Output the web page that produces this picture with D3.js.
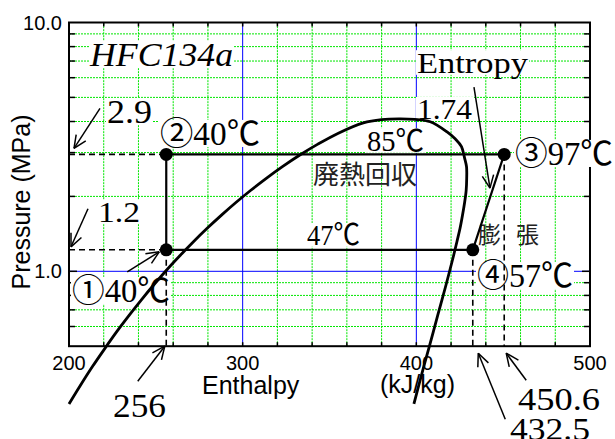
<!DOCTYPE html>
<html>
<head>
<meta charset="utf-8">
<script src="https://cdn.jsdelivr.net/npm/d3@7"></script>
<style>
    body { margin: 0; background: #fff; }
</style>
</head>
<body>
<div id="chart"></div>
<script>

// saturation dome of HFC134a, liquid side up to the top then down the vapour side
const satH = [200.0, 206.8, 213.6, 220.5, 227.5, 234.6, 241.8, 249.1, 256.5, 264.1, 271.8, 279.7, 287.8,
    296.1, 304.7, 313.6, 322.9, 332.7, 343.3, 355.1, 369.5, 380.0, 390.0, 399.0,
    408.0, 417.5, 422.5, 426.0, 427.8, 428.9, 429.0, 428.7, 427.8, 426.6, 425.2, 423.4, 421.5,
    419.4, 417.2, 414.8, 412.3, 409.8, 407.1, 404.3, 401.5, 398.6];
const satP = [0.293, 0.350, 0.415, 0.488, 0.572, 0.665, 0.770, 0.887, 1.017, 1.160, 1.318, 1.492, 1.682,
    1.890, 2.117, 2.364, 2.633, 2.926, 3.244, 3.591, 3.950, 4.070, 4.100, 4.080,
    3.990, 3.640, 3.400, 3.170, 2.850, 2.633, 2.364, 2.117, 1.890, 1.682, 1.492, 1.318, 1.160,
    1.017, 0.887, 0.770, 0.665, 0.572, 0.488, 0.415, 0.350, 0.293];

// cycle states 1 -> 4
const stateH = [256, 256, 450.6, 432.5];
const stateP = [1.22, 2.95, 2.95, 1.22];

// axis ticks
const xTickLabels = [200, 300, 400, 500];
const yTickLabels = [1, 10];

let margin = {top: 22.5, right: 25, bottom: 92.8, left: 69};
let width = 615, height = 439;

let svg = d3.select("#chart").append("svg")
    .attr("width", width)
    .attr("height", height)
    .style("display", "block");

let x = d3.scaleLinear().domain([200, 500]).range([margin.left, width - margin.right]);
let y = d3.scaleLog().domain([0.5, 10]).range([height - margin.bottom, margin.top]);

let sans = "'Liberation Sans', Arial, sans-serif";
let serif = "'Liberation Serif', 'Noto Sans CJK JP', serif";
let cjk = "'Noto Sans CJK JP', sans-serif";

// grid
let grid = svg.append("g");
let xGrid = d3.range(220, 500, 20);
grid.selectAll(".vgrid")
    .data(xGrid)
    .enter().append("line")
    .attr("x1", d => x(d)).attr("x2", d => x(d))
    .attr("y1", y(0.5)).attr("y2", y(10))
    .attr("stroke", d => (d === 300 || d === 400) ? "#0000ff" : "#00e600")
    .attr("stroke-width", 1)
    .attr("stroke-dasharray", d => (d === 300 || d === 400) ? null : "2,1");

let yGrid = y.ticks().filter(d => d > 0.5 && d < 10);
grid.selectAll(".hgrid")
    .data(yGrid)
    .enter().append("line")
    .attr("x1", x(200)).attr("x2", x(500))
    .attr("y1", d => y(d)).attr("y2", d => y(d))
    .attr("stroke", d => d === 1 ? "#0000ff" : "#00e600")
    .attr("stroke-width", 1)
    .attr("stroke-dasharray", d => d === 1 ? null : "2,1");

// frame + inward ticks
let frame = svg.append("g");
let xTicks = d3.range(220, 500, 20);
frame.selectAll(".tb")
    .data(xTicks)
    .enter().append("line")
    .attr("x1", d => x(d)).attr("x2", d => x(d))
    .attr("y1", y(0.5)).attr("y2", y(0.5) - 4)
    .attr("stroke", "#000").attr("stroke-width", 1.5);
frame.selectAll(".tt")
    .data(xTicks)
    .enter().append("line")
    .attr("x1", d => x(d)).attr("x2", d => x(d))
    .attr("y1", y(10)).attr("y2", y(10) + 4)
    .attr("stroke", "#000").attr("stroke-width", 1.5);
frame.selectAll(".tl")
    .data(yGrid)
    .enter().append("line")
    .attr("x1", x(200)).attr("x2", d => x(200) + (d === 1 ? 8 : 6))
    .attr("y1", d => y(d)).attr("y2", d => y(d))
    .attr("stroke", "#000").attr("stroke-width", 1.5);
frame.selectAll(".tr")
    .data(yGrid)
    .enter().append("line")
    .attr("x1", x(500)).attr("x2", d => x(500) - (d === 1 ? 8 : 6))
    .attr("y1", d => y(d)).attr("y2", d => y(d))
    .attr("stroke", "#000").attr("stroke-width", 1.5);
frame.append("rect")
    .attr("x", x(200)).attr("y", y(10))
    .attr("width", x(500) - x(200)).attr("height", y(0.5) - y(10))
    .attr("fill", "none").attr("stroke", "#000").attr("stroke-width", 2);

// tick labels and axis titles
svg.selectAll(".xlab")
    .data(xTickLabels)
    .enter().append("text")
    .attr("x", d => x(d)).attr("y", y(0.5) + 24)
    .attr("text-anchor", "middle")
    .attr("font-family", sans).attr("font-size", 20)
    .text(d => d);
svg.selectAll(".ylab")
    .data(yTickLabels)
    .enter().append("text")
    .attr("x", x(200) - 7).attr("y", d => y(d) + 7)
    .attr("text-anchor", "end")
    .attr("font-family", sans).attr("font-size", 20)
    .text(d => d3.format(".1f")(d));

svg.append("text")
    .attr("x", 202).attr("y", 394)
    .attr("font-family", sans).attr("font-size", 25)
    .text("Enthalpy");
svg.append("text")
    .attr("x", 380).attr("y", 393)
    .attr("font-family", sans).attr("font-size", 25)
    .text("(kJ/kg)");
svg.append("text")
    .attr("transform", "translate(30,202) rotate(-90)")
    .attr("text-anchor", "middle")
    .attr("font-family", sans).attr("font-size", 25)
    .text("Pressure (MPa)");

// serif labels with a white box behind them
let labels = [
    {t: "HFC134a", x: 90, y: 66, fs: 33, w: 143, it: true},
    {t: "2.9", x: 107, y: 123, fs: 33, w: 45},
    {t: "②40℃", x: 160, y: 145, fs: 33, w: 100},
    {t: "1.2", x: 98, y: 222, fs: 29, w: 42},
    {t: "①40℃", x: 72, y: 302, fs: 33, w: 98},
    {t: "256", x: 113, y: 417, fs: 34, w: 53},
    {t: "432.5", x: 510, y: 440, fs: 32, w: 80},
    {t: "450.6", x: 518, y: 410, fs: 32, w: 82},
    {t: "Entropy", x: 417, y: 73, fs: 30, w: 111},
    {t: "1.74", x: 417, y: 119, fs: 29, w: 55},
    {t: "85℃", x: 367, y: 151, fs: 30, w: 57},
    {t: "③97℃", x: 515, y: 165, fs: 33, w: 98},
    {t: "47℃", x: 307, y: 245, fs: 29, w: 53},
    {t: "④57℃", x: 477, y: 287, fs: 33, w: 96}
];
let lab = svg.append("g");
labels.forEach(d => {
    lab.append("rect")
        .attr("x", d.x - 1).attr("y", d.y - d.fs * 0.76)
        .attr("width", d.w + 2).attr("height", d.fs * 0.82)
        .attr("fill", "#fff");
    lab.append("text")
        .attr("x", d.x).attr("y", d.y)
        .attr("font-family", serif).attr("font-size", d.fs)
        .attr("font-style", d.it ? "italic" : null)
        .attr("textLength", d.w).attr("lengthAdjust", "spacingAndGlyphs")
        .text(d.t);
});

// japanese labels
lab.append("text")
    .attr("x", 313).attr("y", 184)
    .attr("font-family", cjk).attr("font-size", 26)
    .attr("fill", "#222")
    .text("廃熱回収");
lab.append("text")
    .attr("x", 478).attr("y", 243)
    .attr("font-family", cjk).attr("font-size", 23)
    .attr("fill", "#222")
    .text("膨");
lab.append("text")
    .attr("x", 516).attr("y", 243)
    .attr("font-family", cjk).attr("font-size", 23)
    .attr("fill", "#222")
    .text("張");

// saturation curve (runs past the bottom of the frame)
let sat = satH.map((h, i) => [x(h), y(satP[i])]);
svg.append("path")
    .datum(sat)
    .attr("d", d3.line().curve(d3.curveCatmullRom))
    .attr("fill", "none")
    .attr("stroke", "#000")
    .attr("stroke-width", 2.8);

// dashed guides
let guides = svg.append("g")
    .attr("stroke", "#000").attr("stroke-width", 1.6).attr("stroke-dasharray", "6,4");
[0, 1].forEach(i => {
    guides.append("line")
        .attr("x1", x(200)).attr("x2", x(stateH[i]))
        .attr("y1", y(stateP[i])).attr("y2", y(stateP[i]));
});
[0, 3, 2].forEach(i => {
    guides.append("line")
        .attr("x1", x(stateH[i])).attr("x2", x(stateH[i]))
        .attr("y1", y(stateP[i])).attr("y2", y(0.5));
});

// cycle 1-2-3-4-1
let cyc = stateH.map((h, i) => [x(h), y(stateP[i])]);
svg.append("path")
    .datum(cyc)
    .attr("d", d => d3.line()(d) + "Z")
    .attr("fill", "none")
    .attr("stroke", "#000")
    .attr("stroke-width", 2.2);

svg.selectAll(".state")
    .data(cyc)
    .enter().append("circle")
    .attr("cx", d => d[0]).attr("cy", d => d[1])
    .attr("r", 6.5)
    .attr("fill", "#000");

// arrows: tip placed on the value it points at, tail given as offset
function arrow(tx, ty, dx, dy) {
    let g = svg.append("g").attr("stroke", "#000").attr("stroke-width", 1.5).attr("fill", "none");
    g.append("line").attr("x1", tx + dx).attr("y1", ty + dy).attr("x2", tx).attr("y2", ty);
    let a = Math.atan2(dy, dx);
    let len = 14, spread = 0.42;
    [a - spread, a + spread].forEach(b => {
        g.append("line")
            .attr("x1", tx).attr("y1", ty)
            .attr("x2", tx + len * Math.cos(b)).attr("y2", ty + len * Math.sin(b));
    });
}
arrow(x(200) + 5, y(stateP[1]) - 6, 26, -40);
arrow(x(200) + 2, y(stateP[0]) - 3, 17, -38);
arrow(x(stateH[0]) - 7, y(stateP[0]) + 2, -32, 20);
arrow(x(stateH[0]) - 1.5, y(0.5), -27, 35);
arrow(x(stateH[3]) + 5.5, y(0.5) + 7, 27, 66);
arrow(x(stateH[2]) + 2, y(0.5) + 7, 20, 27);
arrow(x(442.4), y(2.16), -16, -101);

</script>
</body>
</html>
